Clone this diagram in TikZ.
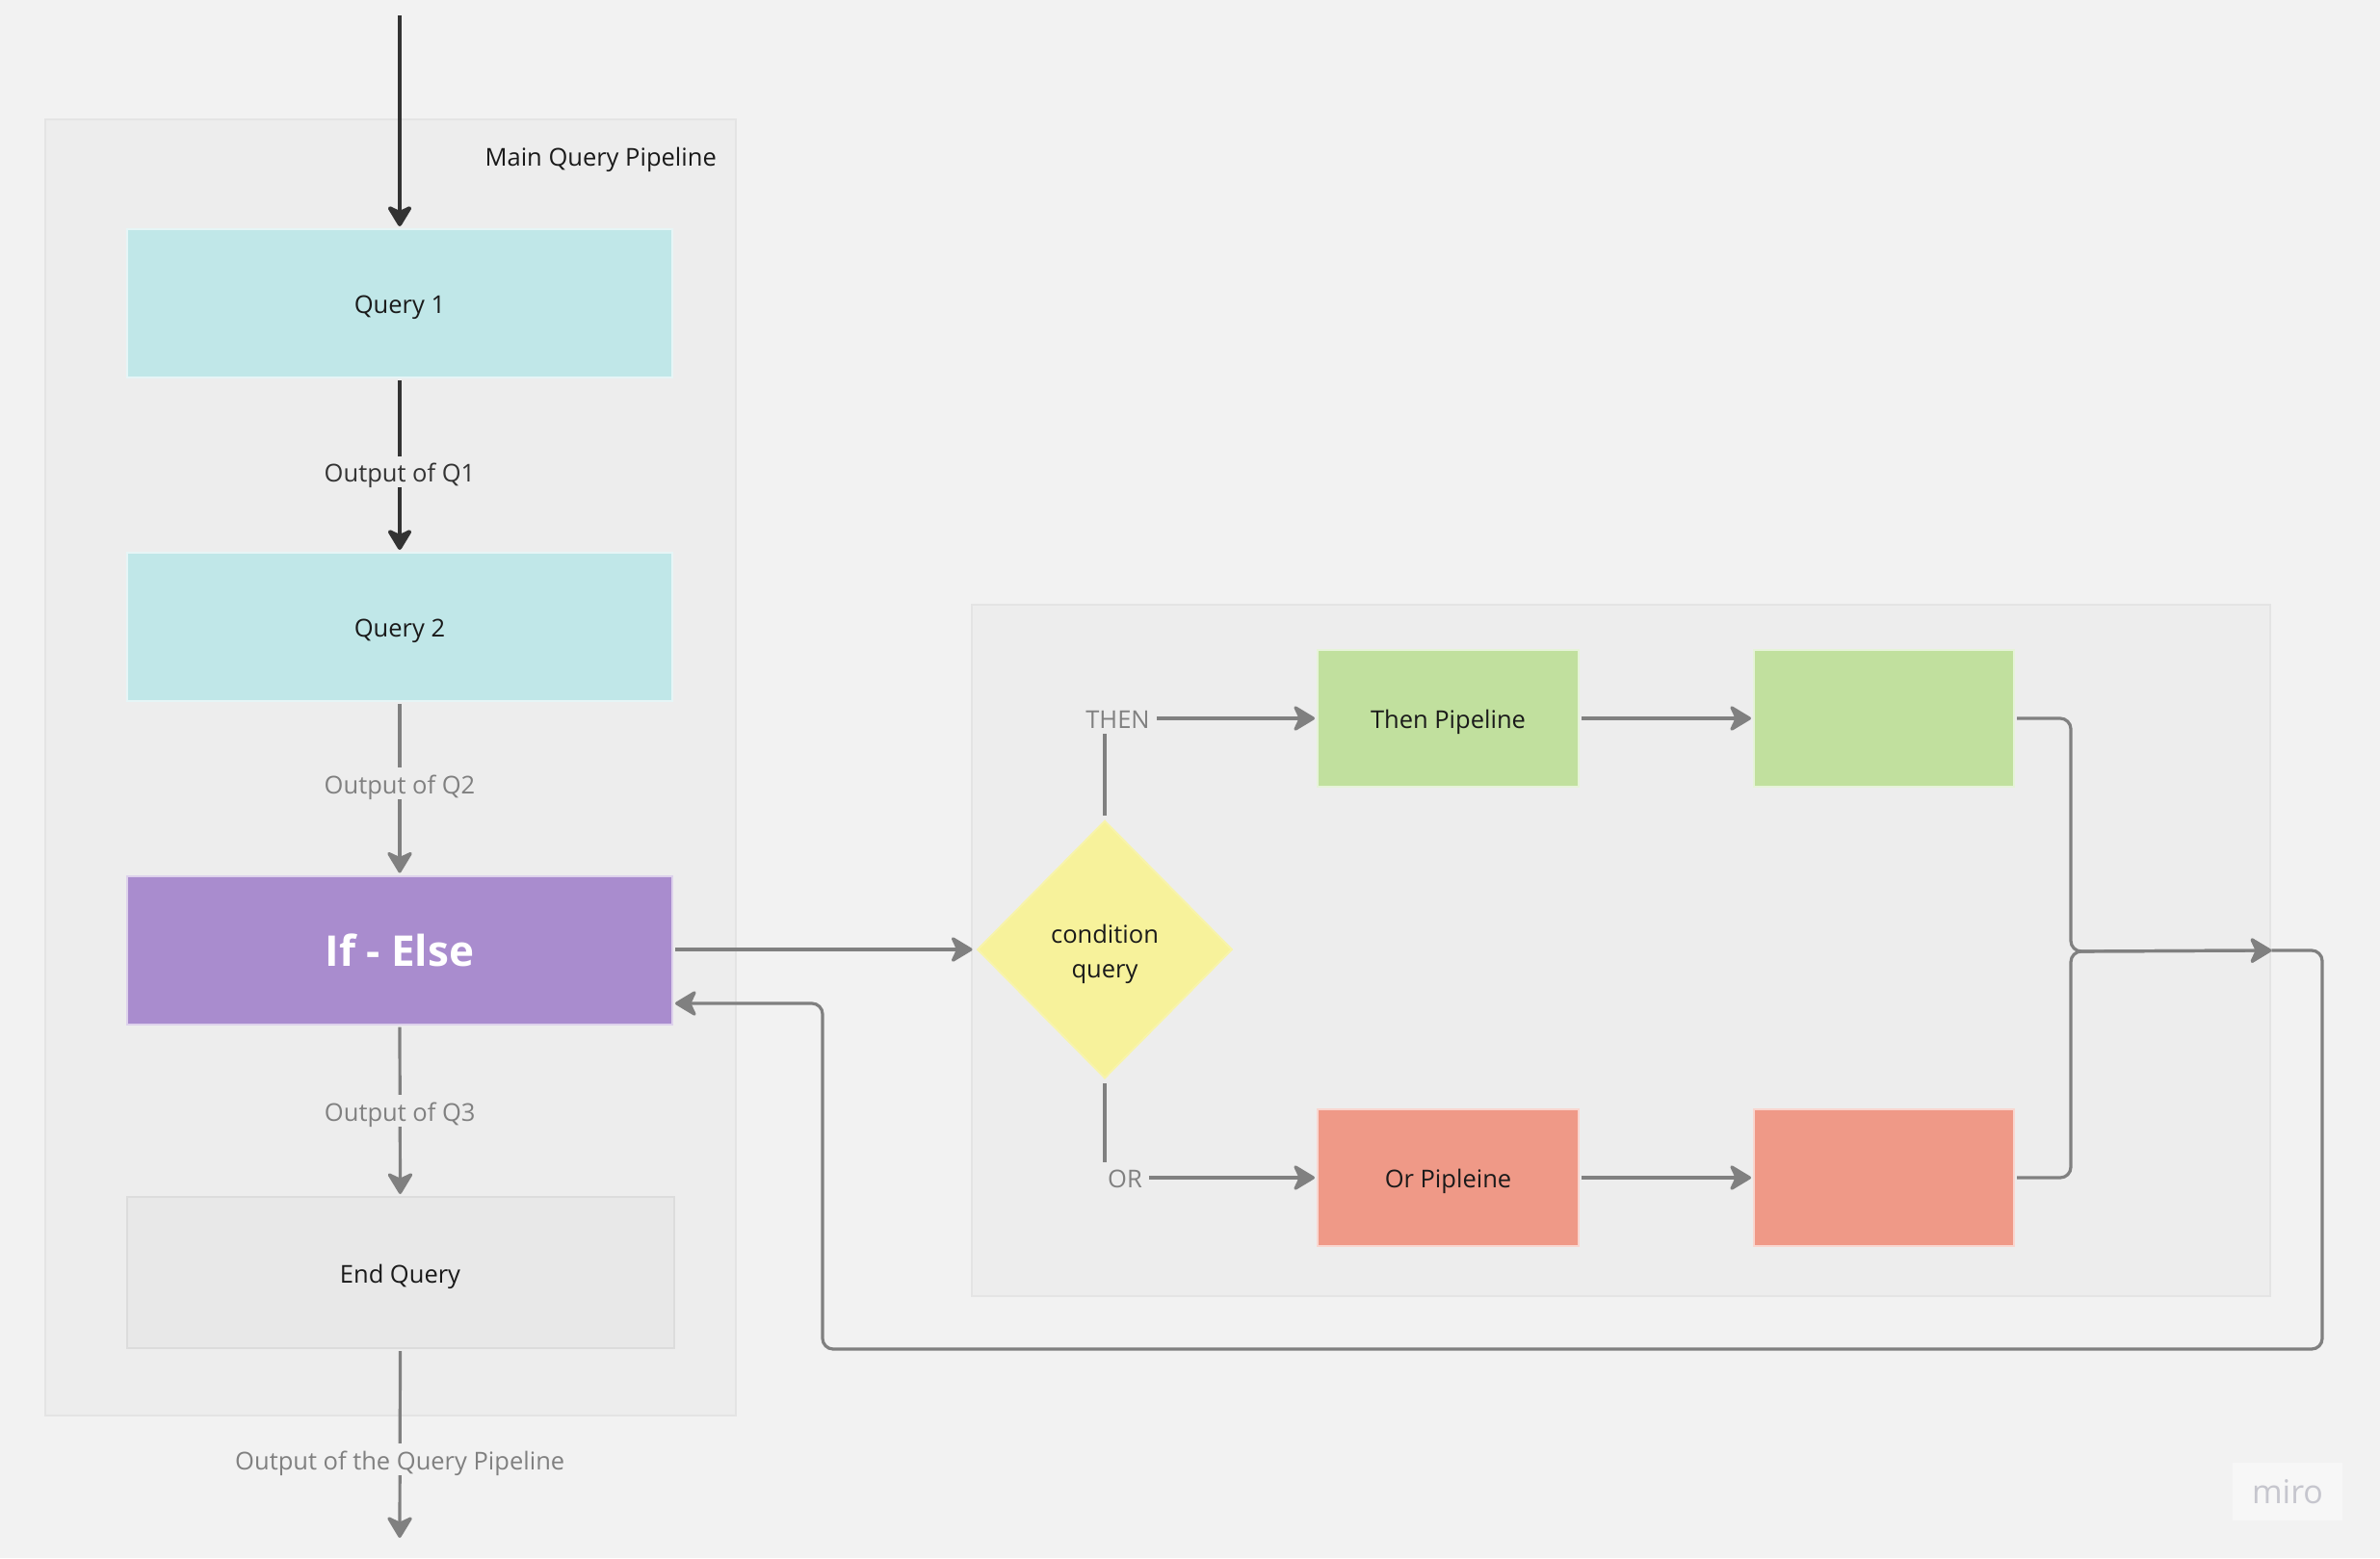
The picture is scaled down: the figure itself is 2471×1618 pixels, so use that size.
\documentclass[tikz,border=0pt]{standalone}
\usepackage{fontspec}
\setmainfont{Open Sans}
\usetikzlibrary{arrows.meta,shapes.geometric}
\definecolor{bgc}{HTML}{F2F2F2}
\definecolor{framec}{HTML}{EDEDED}
\definecolor{frameb}{HTML}{E4E4E4}
\definecolor{queryc}{HTML}{C0E7E8}
\definecolor{ifc}{HTML}{A98CCE}
\definecolor{endc}{HTML}{E8E8E8}
\definecolor{condc}{HTML}{F7F29B}
\definecolor{greenc}{HTML}{C1E09E}
\definecolor{redc}{HTML}{EF9987}
\definecolor{linedark}{HTML}{333333}
\definecolor{linegray}{HTML}{808080}
\definecolor{txtc}{HTML}{1A1A1A}
\definecolor{miroc}{HTML}{C6C6CE}
\tikzset{
  frame/.style={draw=frameb, line width=2.5pt, fill=framec, inner sep=0},
  box/.style={draw=white!60!#1, line width=2pt, fill=#1, minimum width=566pt, minimum height=154pt, inner sep=0, outer sep=3pt, text=txtc, font=\fontsize{25.5}{31}\selectfont, text height=23pt, text depth=1.5pt},
  pbox/.style={draw=white!60!#1, line width=2pt, fill=#1, minimum width=271pt, minimum height=142pt, inner sep=0, outer sep=3pt, text=txtc, font=\fontsize{25.5}{31}\selectfont, text height=23pt, text depth=1.5pt},
  tipshape/.tip={Stealth[length=25pt,width=30pt,inset=7pt,round]},
  darkarrow/.style={draw=linedark, line width=4pt, -tipshape},
  grayarrow/.style={draw=linegray, line width=3.2pt, -tipshape},
  lbl/.style={font=\fontsize{25.5}{31}\selectfont, inner xsep=7pt, inner ysep=4pt, fill=framec, text height=23pt, text depth=1.5pt},
}
\begin{document}
\begin{tikzpicture}[x=1pt,y=-1pt]
\useasboundingbox[fill=bgc] (0,0) rectangle (2471,1618);

% frames
\node[frame, minimum width=717pt, minimum height=1346pt] (mainframe) at (405.5,797) {};
\node[font=\fontsize{25.5}{31}\selectfont, text=txtc, anchor=east, inner sep=0, text height=23pt, text depth=1.5pt] (maintitle) at (744,162) {Main Query Pipeline};
\node[frame, minimum width=1348pt, minimum height=718pt] (subframe) at (1683,987) {};

% left column
\node[box=queryc] (q1) at (415,315) {Query 1};
\node[box=queryc] (q2) at (415,651) {Query 2};
\node[box=ifc, text=white, font=\fontsize{44}{52}\selectfont\bfseries, text height=34pt, text depth=0pt] (ifelse) at (415,986.5) {If - Else};
\node[box=endc, minimum width=568pt, minimum height=157pt, draw=endc!95!black] (endq) at (415.5,1321.5) {End Query};

\coordinate (inpt) at (415,16);
\coordinate (outpt) at (415,1597);

\draw[darkarrow] (inpt) -- (q1.north);
\draw[darkarrow] (q1.south) -- node[lbl, pos=0.54, text=linedark] {Output of Q1} (q2.north);
\draw[grayarrow] (q2.south) -- node[lbl, pos=0.47, text=linegray] {Output of Q2} (ifelse.north);
\draw[grayarrow] (ifelse.south) -- node[lbl, pos=0.5, text=linegray] {Output of Q3} (endq.north);
\draw[grayarrow] (endq.south) -- node[lbl, pos=0.58, text=linegray, fill=bgc] {Output of the Query Pipeline} (outpt);

% right part
\node[diamond, aspect=1, minimum width=267pt, minimum height=270pt, inner sep=0, outer sep=4pt, fill=condc, draw=condc!85!white, line width=2pt, align=center, text=txtc, font=\fontsize{25.5}{36}\selectfont] (cond) at (1147,986) {\rule{0pt}{30pt}condition\\query};
\node[pbox=greenc] (then) at (1503.5,746) {Then Pipeline};
\node[pbox=greenc, minimum width=270pt] (g2) at (1956,746) {};
\node[pbox=redc] (orp) at (1503.5,1223) {Or Pipleine};
\node[pbox=redc, minimum width=270pt] (r2) at (1956,1223) {};

\draw[grayarrow] (ifelse.east |- cond.west) -- (cond.west);
\draw[grayarrow] (cond.north) |- node[lbl, pos=0.5, xshift=13.5pt, text=linegray] {THEN} (then.west);
\draw[grayarrow] (cond.south) |- node[lbl, pos=0.5, xshift=21pt, text=linegray] {OR} (orp.west);
\draw[grayarrow] (then.east) -- (g2.west);
\draw[grayarrow] (orp.east) -- (r2.west);

\coordinate (mergex) at (2150,988);
\draw[grayarrow, rounded corners=11pt] (g2.east) -| (mergex) -- (subframe.east);
\draw[grayarrow, rounded corners=11pt] (r2.east) -| (mergex) -- (subframe.east);

\coordinate (loopa) at (2411,1401);
\coordinate (loopb) at (854,1042);
\draw[grayarrow, rounded corners=11pt] (subframe.east) -| (loopa) -| (loopb) -- (ifelse.east |- loopb);

% watermark
\node[fill=white!40!bgc, minimum width=114pt, minimum height=60pt, text=miroc, font=\fontsize{34}{40}\selectfont] (miro) at (2375,1549) {miro};
\end{tikzpicture}
\end{document}
